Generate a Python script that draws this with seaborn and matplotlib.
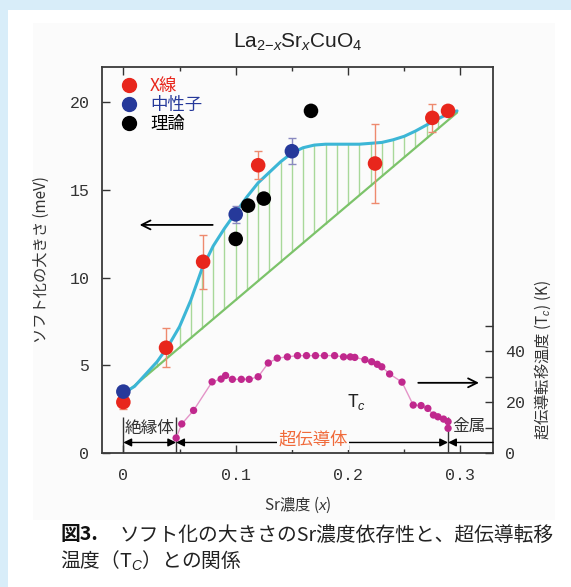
import numpy as np
import pandas as pd
import matplotlib
matplotlib.use("Agg")
import matplotlib.pyplot as plt
import seaborn as sns
from matplotlib.ticker import MultipleLocator, FixedLocator
from matplotlib.lines import Line2D
from matplotlib.patches import Rectangle

# data
xray_x = [0.0, 0.038, 0.071, 0.12, 0.224, 0.275, 0.289]
xray_y = [2.9, 6.0, 10.9, 16.4, 16.5, 19.1, 19.5]
xray_err = [0.4, 1.1, 1.55, 0.8, 2.25, 0.8, 0.3]

neutron_x = [0.0, 0.10, 0.15]
neutron_y = [3.5, 13.6, 17.2]
neutron_err = [0.3, 0.5, 0.75]

theory_x = [0.10, 0.111, 0.125, 0.167]
theory_y = [12.2, 14.1, 14.5, 19.5]

curve_x = [0.0, 0.01, 0.02, 0.03, 0.04, 0.05, 0.06, 0.07, 0.08, 0.09, 0.10,
           0.11, 0.12, 0.13, 0.14, 0.15, 0.16, 0.17, 0.18, 0.19, 0.20, 0.21,
           0.22, 0.23, 0.24, 0.25, 0.26, 0.27, 0.28, 0.29, 0.297]
curve_y = [3.4, 3.8, 4.5, 5.2, 6.1, 7.2, 8.7, 10.5, 11.8, 12.8, 13.7,
           14.6, 15.4, 16.0, 16.6, 17.1, 17.4, 17.55, 17.6, 17.6, 17.6, 17.6,
           17.65, 17.7, 17.85, 18.05, 18.35, 18.7, 19.05, 19.35, 19.5]

linear_x = [0.0, 0.297]
linear_y = [3.3, 19.4]

tc_x = [0.047, 0.052, 0.0625, 0.079, 0.087, 0.091, 0.097, 0.105, 0.112, 0.120,
        0.129, 0.137, 0.146, 0.155, 0.163, 0.171, 0.179, 0.188, 0.196, 0.202,
        0.206, 0.215, 0.221, 0.226, 0.230, 0.237, 0.248, 0.258, 0.265, 0.271,
        0.276, 0.280, 0.285, 0.289, 0.289]
tc_y = [5.9, 11.4, 16.7, 27.9, 29.0, 30.4, 28.9, 28.9, 28.9, 29.9,
        35.3, 37.2, 37.7, 38.2, 38.2, 38.2, 38.2, 38.2, 37.7, 37.7,
        37.5, 36.6, 35.8, 34.8, 33.8, 31.0, 27.8, 18.8, 18.6, 17.5,
        14.9, 14.2, 13.3, 12.3, 9.7]

jp = ["Noto Sans CJK JP", "DejaVu Sans"]
mono = ["Liberation Mono", "Noto Sans CJK JP"]

sns.set_style("ticks")
plt.rcParams["font.family"] = jp
plt.rcParams["mathtext.fontset"] = "custom"
plt.rcParams["mathtext.rm"] = "Liberation Sans"
plt.rcParams["mathtext.it"] = "Liberation Sans:italic"

fig = plt.figure(figsize=(5.71, 5.87), dpi=100)
fig.patch.set_facecolor("#d8edf9")
fig.patches.append(Rectangle((8 / 571, 0), 1, 1 - 10 / 587, transform=fig.transFigure,
                             facecolor="white", edgecolor="none", zorder=-10))
fig.patches.append(Rectangle((33 / 571, 67 / 587), 522 / 571, 497 / 587, transform=fig.transFigure,
                             facecolor="#fbfbfb", edgecolor="none", zorder=-9))

ax = fig.add_axes([102 / 571, 134 / 587, 391 / 571, 386 / 587])
ax.set_facecolor("none")

# hatched area between the linear line and the curve
green = "#7cc36a"
lower = np.interp(curve_x, linear_x, linear_y)
ax.vlines(curve_x[1:-1], lower[1:-1], curve_y[1:-1], color="#a8d89a", lw=1.0, zorder=1)
sns.lineplot(x=linear_x, y=linear_y, color=green, lw=1.6, ax=ax, zorder=2)
sns.lineplot(x=curve_x, y=curve_y, color="#3cb6d6", lw=2.2, ax=ax, zorder=3, sort=False)

ax.errorbar(xray_x, xray_y, yerr=xray_err, fmt="none", ecolor="#ee8a6e", elinewidth=1,
            capsize=3, zorder=4)
ax.errorbar(neutron_x, neutron_y, yerr=neutron_err, fmt="none", ecolor="#8a8ac0",
            elinewidth=1, capsize=3, zorder=4)
sns.scatterplot(x=xray_x, y=xray_y, color="#e8261c", s=110, edgecolor="none", ax=ax, zorder=5)
sns.scatterplot(x=neutron_x, y=neutron_y, color="#26399a", s=110, edgecolor="none", ax=ax, zorder=5)
sns.scatterplot(x=theory_x, y=theory_y, color="black", s=110, edgecolor="none", ax=ax, zorder=5)

ax.set_xlim(-0.019, 0.329)
ax.set_ylim(0, 22)
ax.xaxis.set_major_locator(FixedLocator([0, 0.1, 0.2, 0.3]))
ax.xaxis.set_minor_locator(MultipleLocator(0.05))
ax.yaxis.set_major_locator(FixedLocator([0, 5, 10, 15, 20]))
ax.set_xticklabels(["0", "0.1", "0.2", "0.3"])
ax.tick_params(which="both", direction="in", top=True, color="#333333")
ax.tick_params(which="major", length=6, width=1)
ax.tick_params(which="minor", length=3, width=1)
ax.tick_params(axis="x", pad=11)
ax.tick_params(axis="y", pad=9)
for lab in ax.get_xticklabels() + ax.get_yticklabels():
    lab.set_family(mono)
    lab.set_fontsize(12)
    lab.set_color("#333333")
for sp in ax.spines.values():
    sp.set_color("#3a3a3a")
    sp.set_linewidth(1.3)
    sp.set_visible(True)

ax.set_title(r"La$_{2\mathregular{-}x}$Sr$_x$CuO$_4$", fontsize=15, family="Liberation Sans",
             pad=14, color="#222222")
ax.set_xlabel("Sr濃度 ($x$)", fontsize=11, color="#333333", labelpad=8)
ax.set_ylabel("ソフト化の大きさ (meV)", fontsize=11, color="#333333", labelpad=14)

# legend
handles = [Line2D([], [], marker="o", ls="none", color=c, markersize=10)
           for c in ["#e8261c", "#26399a", "black"]]
ax.legend(handles, ["X線", "中性子", "理論"], loc="upper left", bbox_to_anchor=(-0.01, 1.01),
          frameon=False, handletextpad=0.2, labelspacing=0.05, borderaxespad=0.4,
          labelcolor=["#e8261c", "#26399a", "black"], prop={"family": jp, "size": 12.5})

# Tc axis
ax2 = ax.twinx()
sns.lineplot(x=tc_x, y=tc_y, color="#e494c8", lw=1, ax=ax2, sort=False, zorder=2)
sns.scatterplot(x=tc_x, y=tc_y, color="#c0288d", s=28, edgecolor="none", ax=ax2, zorder=3)
ax2.set_ylim(0, 151.4)
ax2.yaxis.set_major_locator(FixedLocator([0, 20, 40]))
ax2.yaxis.set_minor_locator(FixedLocator([10, 30, 50]))
ax2.tick_params(which="both", direction="in", color="#333333", pad=9)
ax2.tick_params(which="major", length=6, width=1)
ax2.tick_params(which="minor", length=6, width=1)
for lab in ax2.get_yticklabels():
    lab.set_family(mono)
    lab.set_fontsize(12)
    lab.set_color("#333333")
for sp in ax2.spines.values():
    sp.set_visible(False)
ax2.set_ylabel("")
fig.text(543 / 571, 1 - 360 / 587, "超伝導転移温度 (T$_c$) (K)", rotation=90, ha="center",
         va="center", fontsize=11, color="#333333")

# arrows and regions
ax.annotate("", xy=(0.012, 13.0), xytext=(0.082, 13.0),
            arrowprops=dict(arrowstyle="->", color="black", lw=1.3, mutation_scale=16))
ax.annotate("", xy=(0.319, 4.0), xytext=(0.26, 4.0),
            arrowprops=dict(arrowstyle="->", color="black", lw=1.3, mutation_scale=16))
ax.text(0.208, 2.9, "T$_c$", fontsize=13, ha="center", va="center", color="#222222")

ax.vlines([0.0, 0.047, 0.289], 0, 2.07, color="#333333", lw=1)
arrow_kw = dict(arrowstyle="<|-|>", color="black", lw=1, mutation_scale=12, shrinkA=0, shrinkB=0)
ax.annotate("", xy=(0.0, 0.6), xytext=(0.047, 0.6), arrowprops=arrow_kw)
ax.annotate("", xy=(0.047, 0.6), xytext=(0.289, 0.6), arrowprops=arrow_kw)
ax.annotate("", xy=(0.289, 0.6), xytext=(0.329, 0.6),
            arrowprops=dict(arrowstyle="-|>", color="black", lw=1, mutation_scale=12,
                            shrinkA=0, shrinkB=0))
ax.text(0.0235, 1.42, "絶縁体", fontsize=12, ha="center", va="center", color="#333333")
ax.text(0.169, 0.75, "超伝導体", fontsize=12.5, ha="center", va="center", color="#f06a3a",
        bbox=dict(facecolor="#fbfbfb", edgecolor="none", pad=1))
ax.text(0.308, 1.5, "金属", fontsize=12, ha="center", va="center", color="#333333")

# caption
fig.text(60 / 571, 1 - 535 / 587, "図3.", fontsize=14.2, fontweight="bold", va="center",
         color="#111111")
fig.text(120 / 571, 1 - 535 / 587, "ソフト化の大きさのSr濃度依存性と、超伝導転移",
         fontsize=14.2, va="center", color="#222222")
fig.text(60 / 571, 1 - 561 / 587, "温度（T$_C$）との関係", fontsize=14.2, va="center",
         color="#222222")

fig.savefig("out.png", dpi=100, facecolor=fig.get_facecolor())
